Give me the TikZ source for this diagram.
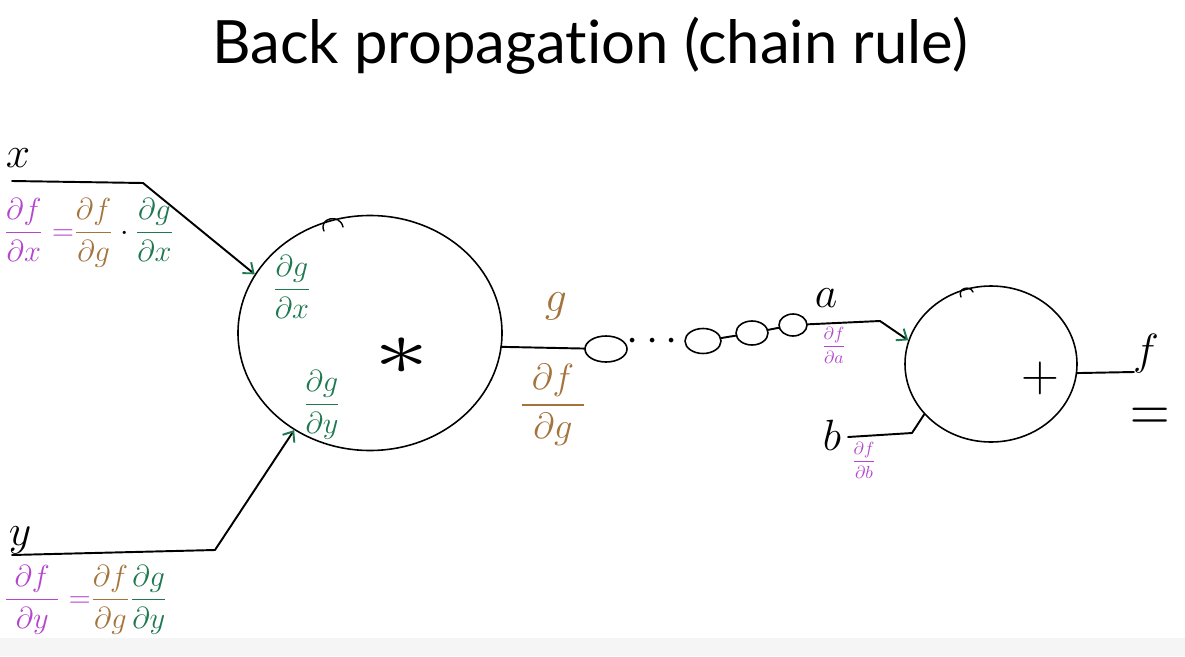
\documentclass[tikz,border=0pt]{standalone}
\usepackage{amsmath}
\usepackage{graphicx}
\usepackage{fontspec}
\setsansfont{Lato}[Ligatures={NoCommon, NoRare}]
\usetikzlibrary{arrows.meta, shapes.geometric}
\definecolor{inkpurple}{RGB}{180,70,205}
\definecolor{inkbrown}{RGB}{165,115,60}
\definecolor{inkgreen}{RGB}{30,120,80}

\begin{document}
\begin{tikzpicture}[
  x=0.2mm, y=-0.2mm,
  wire/.style={line width=1.1pt, line cap=round, line join=round},
  gate/.style={draw, ellipse, line width=0.9pt, inner sep=0pt},
  lbl/.style={font=\fontsize{24}{28}\selectfont, inner sep=1pt},
  grad/.style={font=\fontsize{16}{20}\selectfont, inner sep=1pt},
  smallgrad/.style={font=\fontsize{10}{12}\selectfont, inner sep=0pt},
  inarr/.style={-{Straight Barb[color=inkgreen, length=5pt, width=8pt]}}
]
\useasboundingbox (0,0) rectangle (1185,656);
\fill[black!4] (0,638) rectangle (1185,656);

\node[font=\sffamily\fontsize{34}{40}\selectfont] (title) at (590,46) {Back propagation (chain rule)};

% multiply gate
\node[gate, minimum width=52.8mm, minimum height=47mm] (mul) at (370,333) {};
\node[lbl] (times) at (402,356) {\scalebox{2.5}[1.8]{$\ast$}};
\node[grad, text=inkgreen] (dgdx) at (292,287) {$\dfrac{\partial g}{\partial x}$};
\node[grad, text=inkgreen] (dgdy) at (322,405) {$\dfrac{\partial g}{\partial y}$};
\draw[wire, line width=0.8pt] (324,231) .. controls (318,218) and (340,213) .. (343,227);

\node[lbl] (x) at (18,158) {$x$};
\coordinate (xin) at (12,181);
\coordinate (xbend) at (143,183);
\draw[wire, inarr] (xin) -- (xbend) -- (mul.153);
\node[grad, anchor=west] (dfdx) at (2,233) {$\textcolor{inkpurple}{\dfrac{\partial f}{\partial x}=}\textcolor{inkbrown}{\dfrac{\partial f}{\partial g}}\cdot\textcolor{inkgreen}{\dfrac{\partial g}{\partial x}}$};

\node[lbl] (y) at (20,540) {$y$};
\coordinate (yin) at (12,555);
\coordinate (ybend) at (215,550);
\draw[wire, inarr] (yin) -- (ybend) -- (mul.232);
\node[grad, anchor=west] (dfdy) at (2,600) {$\textcolor{inkpurple}{\dfrac{\;\partial f\;}{\partial y}=}\textcolor{inkbrown}{\dfrac{\partial f}{\partial g}}\textcolor{inkgreen}{\dfrac{\partial g}{\partial y}}$};

% chain
\node[gate, minimum width=8.4mm, minimum height=5.2mm] (c1) at (606,349) {};
\draw[wire] (mul.-6) -- (c1);
\node[lbl, text=inkbrown] (g) at (556,306) {$g$};
\node[font=\fontsize{20}{24}\selectfont, text=inkbrown] (dfdg) at (553,405) {$\dfrac{\;\partial f\;}{\partial g}$};
\node[lbl] (dots) at (656,342) {$\cdots$};
\node[gate, minimum width=7.2mm, minimum height=5mm] (c2) at (703,341) {};
\node[gate, minimum width=6.4mm, minimum height=4.8mm] (c3) at (752,333) {};
\node[gate, minimum width=5.6mm, minimum height=4.4mm] (c4) at (793,325) {};
\draw[wire] (c2) -- (c3);
\draw[wire] (c3) -- (c4);

% add gate
\node[gate, minimum width=34.4mm, minimum height=31.2mm] (add) at (991,364) {};
\node[lbl] (plus) at (1040,378) {\scalebox{1.2}{$+$}};
\draw[wire, line width=0.8pt] (961,297) .. controls (957,288) and (970,285) .. (973,292);

\node[lbl] (a) at (826,298) {$a$};
\coordinate (abend) at (880,321);
\draw[wire, inarr] (c4) -- (abend) -- (add.164);
\node[smallgrad, text=inkpurple] (dfda) at (834,345) {$\dfrac{\partial f}{\partial a}$};

\node[lbl] (b) at (832,435) {$b$};
\coordinate (bin) at (848,437);
\coordinate (bbend) at (912,433);
\draw[wire] (bin) -- (bbend) -- (add.217);
\node[smallgrad, text=inkpurple] (dfdb) at (864,460) {$\dfrac{\partial f}{\partial b}$};

\coordinate (fend) at (1134,372);
\draw[wire] (add.-6) -- (fend);
\node[lbl, inner sep=0pt] (f) at (1146,354) {$f$};
\node[lbl, inner sep=0pt] (eq) at (1150,420) {\scalebox{1.25}[1.5]{$=$}};
\end{tikzpicture}
\end{document}
